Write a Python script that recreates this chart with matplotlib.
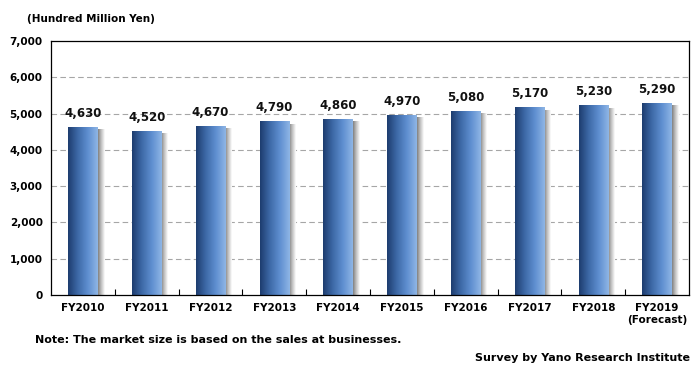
import numpy as np
import matplotlib
matplotlib.use("Agg")
import matplotlib.pyplot as plt
from matplotlib.colors import LinearSegmentedColormap

# market size data
years = ["FY2010", "FY2011", "FY2012", "FY2013", "FY2014",
         "FY2015", "FY2016", "FY2017", "FY2018", "FY2019\n(Forecast)"]
values = [4630, 4520, 4670, 4790, 4860, 4970, 5080, 5170, 5230, 5290]
yticks = [0, 1000, 2000, 3000, 4000, 5000, 6000, 7000]

plt.rcParams['font.family'] = ['DejaVu Sans']

fig = plt.figure(figsize=(7.0, 3.72), dpi=100)
ax = fig.add_axes([51 / 700, 1 - 295 / 372, 638 / 700, 254 / 372])

x = np.arange(len(years))
bar_w = 0.46

# bar gradient: dark navy -> light blue
bar_cmap = LinearSegmentedColormap.from_list(
    "bar", ["#1d3c6e", "#3e6aa8", "#5f8fd0", "#8fb6e6"])
shade_cmap = LinearSegmentedColormap.from_list(
    "shade", ["#7f7f7f", "#c4c4c4", "#ffffff"])
grad = np.linspace(0, 1, 256).reshape(1, -1)

ax.set_xlim(-0.5, len(years) - 0.5)
ax.set_ylim(0, 7000)

for v in yticks[1:-1]:
    ax.axhline(v, color="#a6a6a6", linestyle=(0, (5, 3)), linewidth=0.8, zorder=0)

# shadow behind bars
shadow_w = 0.1
for xi, v in zip(x, values):
    ax.imshow(grad, cmap=shade_cmap, aspect="auto",
              extent=(xi + bar_w / 2, xi + bar_w / 2 + shadow_w, 0, v - 80),
              zorder=1)

bars = ax.bar(x, values, width=bar_w, color="none", edgecolor="none", zorder=2)
for b in bars:
    bx, by = b.get_x(), b.get_y()
    im = ax.imshow(grad, cmap=bar_cmap, aspect="auto",
                   extent=(bx, bx + b.get_width(), by, by + b.get_height()),
                   zorder=2)
    im.set_clip_path(b)

ax.set_xlim(-0.5, len(years) - 0.5)
ax.set_ylim(0, 7000)

for xi, v in zip(x, values):
    ax.annotate(f"{v:,}", (xi, v), xytext=(0, 5), textcoords="offset points",
                ha="center", va="bottom", fontsize=8.5, fontweight="bold",
                color="#111111")

ax.set_yticks(yticks)
ax.set_yticklabels([f"{v:,}" for v in yticks], fontsize=7.5, fontweight="bold")
ax.set_xticks(x)
ax.set_xticklabels(years, fontsize=7.5, fontweight="bold")
ax.tick_params(axis="x", length=0, pad=6)
ax.tick_params(axis="y", length=0, pad=6)

# small category separator ticks on the bottom axis
ax.set_xticks(x[:-1] + 0.5, minor=True)
ax.tick_params(axis="x", which="minor", direction="in", length=4, width=0.8)

for s in ax.spines.values():
    s.set_linewidth(0.9)
    s.set_color("#000000")

fig.text(27 / 700, 1 - 19 / 372, "(Hundred Million Yen)", fontsize=7.5,
         fontweight="bold", va="center", ha="left")
fig.text(35 / 700, 1 - 340 / 372,
         "Note: The market size is based on the sales at businesses.",
         fontsize=8, fontweight="bold", va="center", ha="left")
fig.text(690 / 700, 1 - 358 / 372, "Survey by Yano Research Institute",
         fontsize=8, fontweight="bold", va="center", ha="right")

fig.savefig("out.png", dpi=100)
